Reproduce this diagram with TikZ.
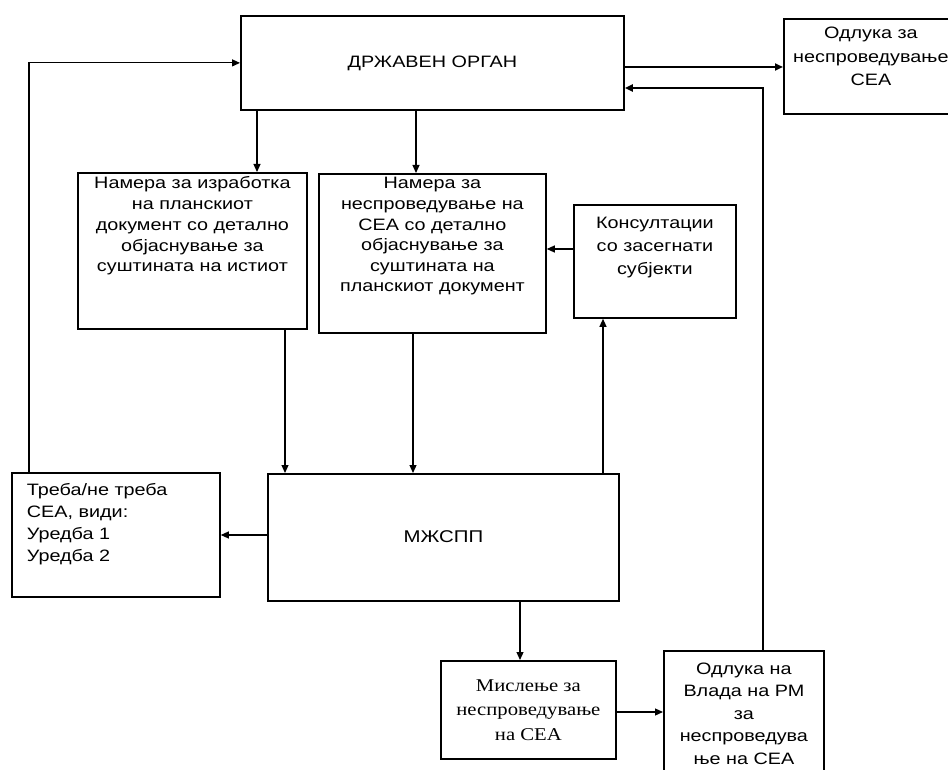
\documentclass[tikz,border=0pt]{standalone}
\usepackage{fontspec}
\setmainfont{Liberation Sans}[FakeStretch=1.2]
\newfontfamily\serifx{Liberation Serif}[FakeStretch=1.15]
\usetikzlibrary{arrows.meta}
% #1 width, #2 height, #3 top pad, #4 font size, #5 baselineskip, #6 text
\newcommand\bxt[6]{\parbox[c][#2][t]{#1}{\vspace*{#3}\fontsize{#4}{#5}\selectfont\centering\strut #6\par}}
\newcommand\bxl[7]{\parbox[c][#2][t]{#1}{\vspace*{#3}\fontsize{#4}{#5}\selectfont\raggedright\leftskip=#7\strut #6\par}}
\tikzset{
  bx/.style={draw=black, line width=1.8pt, inner sep=0pt, anchor=north west},
  arr/.style={draw=black, line width=1.2pt, -{Triangle[length=8pt,width=7pt]}},
  arrthick/.style={arr, line width=2pt},
}
\begin{document}
\begin{tikzpicture}[x=1pt,y=-1pt]
\useasboundingbox (0,0) rectangle (948,770);
% boxes
\node[bx, minimum width=383pt, minimum height=94pt, font=\fontsize{16.5}{20}\selectfont] (dr) at (240,15) {ДРЖАВЕН ОРГАН};
\node[bx] (od1) at (783,18) {\bxt{174pt}{95pt}{3.5pt}{16.5}{23.5pt}{Одлука за\\неспроведување\\СЕА}};
\node[bx] (lb) at (77,172) {\bxt{229pt}{156pt}{1.5pt}{16.5}{20.75pt}{Намера за изработка\\на планскиот\\документ со детално\\објаснување за\\суштината на истиот}};
\node[bx] (mb) at (318,173) {\bxt{227pt}{159pt}{0.6pt}{16.5}{20.6pt}{Намера за\\неспроведување на\\СЕА со детално\\објаснување за\\суштината на\\планскиот документ}};
\node[bx] (kb) at (573,204) {\bxt{162pt}{113pt}{7.9pt}{16.5}{23pt}{Консултации\\со засегнати\\субјекти}};
\node[bx] (tb) at (11,472) {\bxl{208pt}{124pt}{7.6pt}{16.5}{22pt}{Треба/не треба\\СЕА, види:\\Уредба 1\\Уредба 2}{15pt}};
\node[bx, minimum width=351pt, minimum height=127pt, font=\fontsize{17}{20}\selectfont] (mz) at (267,473) {\raisebox{-5pt}[0pt][0pt]{МЖСПП}};
\node[bx] (ms) at (440,660) {\bxt{175pt}{98pt}{13.3pt}{18}{24.5pt}{\serifx Мислење за\\неспроведување\\на СЕА}};
\node[bx] (vl) at (663,650) {\bxt{160pt}{140pt}{7.8pt}{16.5}{22.5pt}{Одлука на\\Влада на РМ\\за\\неспроведува\\ње на СЕА}};
% connectors
\draw[arrthick] (dr.east |- 0,67) -- (od1.west |- 0,67);
\draw[arrthick] (vl.north -| 763,0) |- (dr.east |- 0,88);
\draw[arr] (tb.north -| 29,0) |- (dr.west);
\draw[arr] (dr.south -| 257,0) -- (lb.north -| 257,0);
\draw[arr] (dr.south -| 416,0) -- (mb.north -| 416,0);
\draw[arr] (lb.south -| 285,0) -- (mz.north -| 285,0);
\draw[arr] (mb.south -| 413,0) -- (mz.north -| 413,0);
\draw[arr] (mz.north -| 603,0) -- (kb.south -| 603,0);
\draw[arr] (kb.west |- 0,249) -- (mb.east |- 0,249);
\draw[arr] (mz.west |- 0,535) -- (tb.east |- 0,535);
\draw[arr] (mz.south -| 520,0) -- (ms.north -| 520,0);
\draw[arr] (ms.east |- 0,712) -- (vl.west |- 0,712);
\end{tikzpicture}
\end{document}
